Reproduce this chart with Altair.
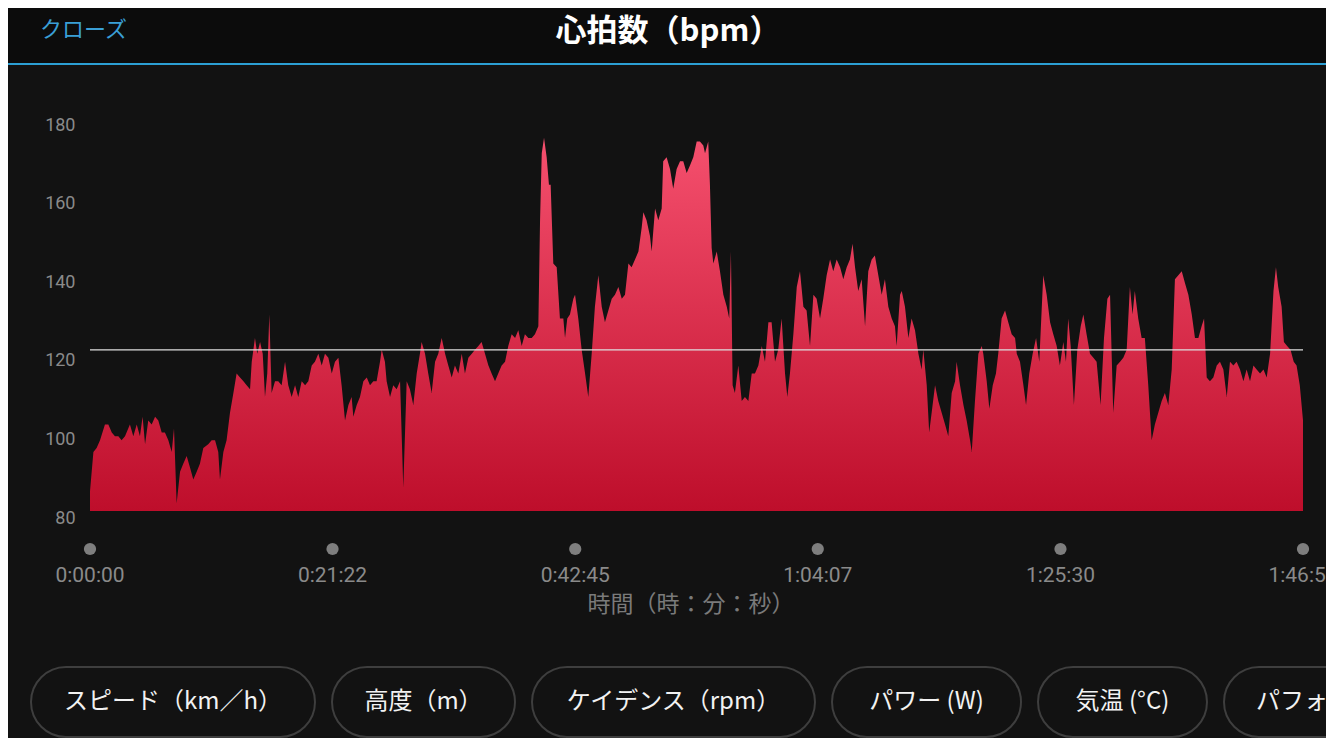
import altair as alt
import pandas as pd

# ---- data ----
elapsed_s = [0, 18, 35, 53, 79, 97, 115, 132, 150, 167, 185, 211, 229, 247, 264, 278, 291, 308, 326, 344,
             361, 379, 396, 414, 432, 444, 458, 476, 493, 511, 529, 546, 564, 581, 599, 625, 643, 661, 678, 687,
             705, 722, 740, 758, 775, 793, 811, 828, 846, 855, 872, 884, 899, 913, 925, 937, 948, 960, 978, 995,
             1013, 1031, 1048, 1066, 1084, 1101, 1119, 1137, 1154, 1172, 1189, 1207, 1225, 1242, 1260, 1278, 1295, 1313, 1330, 1348,
             1366, 1383, 1392, 1410, 1427, 1445, 1463, 1480, 1498, 1515, 1533, 1542, 1559, 1568, 1586, 1603, 1621, 1639, 1656, 1674,
             1691, 1709, 1727, 1744, 1753, 1771, 1788, 1806, 1824, 1841, 1859, 1877, 1894, 1912, 1929, 1947, 1965, 1982, 2000, 2018,
             2035, 2053, 2070, 2088, 2106, 2123, 2141, 2158, 2176, 2194, 2211, 2229, 2247, 2264, 2282, 2299, 2317, 2335, 2352, 2370,
             2379, 2388, 2400, 2414, 2426, 2435, 2449, 2467, 2484, 2502, 2511, 2523, 2537, 2555, 2564, 2581, 2599, 2617, 2634, 2652,
             2669, 2687, 2705, 2722, 2740, 2758, 2775, 2793, 2811, 2828, 2846, 2863, 2881, 2899, 2916, 2925, 2942, 2960, 2969, 2987,
             3004, 3022, 3030, 3048, 3066, 3083, 3101, 3119, 3136, 3154, 3172, 3189, 3207, 3224, 3242, 3251, 3268, 3277, 3286, 3295,
             3313, 3330, 3348, 3366, 3379, 3388, 3397, 3409, 3427, 3445, 3462, 3480, 3498, 3515, 3533, 3551, 3568, 3586, 3603, 3621,
             3638, 3656, 3674, 3686, 3700, 3718, 3736, 3753, 3771, 3788, 3806, 3824, 3841, 3859, 3876, 3894, 3912, 3929, 3947, 3965,
             3982, 4000, 4017, 4031, 4044, 4061, 4079, 4097, 4114, 4132, 4149, 4167, 4185, 4202, 4220, 4238, 4255, 4264, 4282, 4291,
             4308, 4326, 4343, 4361, 4379, 4396, 4405, 4423, 4436, 4449, 4467, 4484, 4502, 4520, 4537, 4555, 4573, 4581, 4599, 4617,
             4634, 4652, 4661, 4678, 4696, 4714, 4722, 4740, 4754, 4772, 4789, 4801, 4819, 4837, 4854, 4872, 4890, 4899, 4916, 4934,
             4948, 4965, 4983, 5001, 5018, 5039, 5057, 5075, 5092, 5110, 5127, 5145, 5159, 5171, 5184, 5201, 5219, 5237, 5251, 5268,
             5286, 5304, 5321, 5342, 5360, 5378, 5392, 5409, 5427, 5445, 5462, 5480, 5497, 5511, 5523, 5541, 5559, 5576, 5594, 5612,
             5629, 5647, 5665, 5682, 5700, 5718, 5735, 5753, 5771, 5788, 5806, 5824, 5841, 5859, 5876, 5889, 5903, 5920, 5938, 5956,
             5973, 5991, 6009, 6026, 6044, 6061, 6079, 6097, 6114, 6132, 6150, 6167, 6185, 6203, 6220, 6238, 6256, 6269, 6281, 6299,
             6311, 6328, 6346, 6363, 6378, 6395, 6412]

heart_rate_bpm = [85, 95, 96, 98, 102, 102, 100, 99, 99, 98, 99, 102, 99, 102, 99, 104, 97, 103, 102, 104,
                  103, 100, 100, 98, 95, 101, 82, 90, 92, 94, 91, 88, 90, 92, 96, 97, 98, 98, 95, 88,
                  95, 98, 105, 110, 115, 114, 113, 112, 111, 118, 124, 120, 123, 120, 109, 115, 130, 110, 113, 113,
                  112, 118, 112, 109, 112, 109, 113, 112, 113, 117, 118, 120, 117, 120, 119, 115, 118, 119, 112, 103,
                  107, 109, 104, 107, 109, 113, 114, 112, 113, 113, 118, 121, 118, 113, 109, 112, 111, 113, 86, 113,
                  111, 107, 115, 120, 123, 120, 115, 110, 118, 120, 124, 120, 117, 114, 117, 115, 120, 115, 119, 120,
                  121, 122, 123, 120, 117, 115, 113, 115, 117, 118, 122, 125, 124, 126, 122, 125, 124, 124, 125, 127,
                  154, 171, 175, 170, 163, 163, 143, 142, 129, 129, 124, 129, 130, 134, 135, 129, 121, 115, 109, 120,
                  132, 140, 132, 128, 131, 134, 135, 137, 134, 135, 143, 142, 144, 146, 152, 156, 154, 150, 146, 157,
                  154, 157, 169, 170, 167, 162, 167, 169, 169, 166, 168, 170, 174, 174, 173, 171, 174, 163, 147, 143,
                  146, 141, 135, 132, 129, 146, 112, 110, 117, 108, 109, 108, 115, 115, 117, 122, 118, 128, 128, 118,
                  121, 129, 115, 109, 115, 125, 137, 141, 132, 131, 122, 135, 134, 129, 134, 140, 144, 141, 144, 142,
                  139, 142, 144, 148, 142, 136, 139, 127, 141, 144, 145, 140, 135, 139, 132, 129, 127, 122, 135, 136,
                  132, 124, 129, 126, 120, 116, 121, 112, 100, 105, 112, 108, 105, 102, 99, 110, 113, 118, 112, 107,
                  103, 98, 95, 108, 120, 122, 120, 113, 106, 112, 115, 120, 129, 131, 128, 125, 124, 120, 118, 112,
                  107, 115, 120, 124, 118, 140, 135, 128, 125, 122, 117, 123, 118, 129, 122, 107, 121, 127, 130, 125,
                  120, 119, 118, 107, 124, 134, 135, 105, 117, 118, 119, 121, 137, 130, 136, 129, 124, 124, 112, 98,
                  102, 105, 108, 110, 107, 116, 139, 140, 141, 138, 135, 130, 124, 124, 127, 129, 114, 113, 114, 117,
                  118, 116, 109, 118, 117, 118, 116, 113, 116, 113, 117, 116, 115, 116, 114, 120, 136, 142, 137, 132,
                  123, 122, 121, 118, 117, 112, 103]

avg_bpm = [121]

tick_s = [0, 1282, 2565, 3847, 5130, 6412]
tick_labels = ["0:00:00", "0:21:22", "0:42:45", "1:04:07", "1:25:30", "1:46:52"]
y_tick_values = [80, 100, 120, 140, 160, 180]

button_labels = ["スピード（km／h）", "高度（m）", "ケイデンス（rpm）", "パワー (W)", "気温 (°C)", "パフォーマンスコンディション"]

# ---- layout (pixels, plot coordinates) ----
PLOT_W, PLOT_H = 1213, 393
pill_x0 = [-59, 242, 442, 742, 948, 1134]
pill_x1 = [225, 425, 725, 931, 1117, 1320]

hr = pd.DataFrame({"t": elapsed_s, "bpm": heart_rate_bpm})
ticks = pd.DataFrame({"t": tick_s, "label": tick_labels})
avg = pd.DataFrame({"avg": avg_bpm})
one = pd.DataFrame({"k": [0]})

JP = "Noto Sans CJK JP"
NUM = "Roboto"

x_scale = alt.Scale(domain=[0, 6412], nice=False, zero=False)
y_scale = alt.Scale(domain=[80, 180], nice=False, zero=False)

header = alt.Chart(one).mark_rect(color="#0c0c0c").encode(
    x=alt.value(-82), x2=alt.value(1244), y=alt.value(-110), y2=alt.value(-54))
header_line = alt.Chart(one).mark_rect(color="#2c9fd3").encode(
    x=alt.value(-82), x2=alt.value(1244), y=alt.value(-55), y2=alt.value(-53))
close_txt = alt.Chart(one).mark_text(text="クローズ", font=JP, fontSize=22, color="#3a9fd6",
                                     align="left", baseline="middle").encode(
    x=alt.value(-50), y=alt.value(-88))
title_txt = alt.Chart(one).mark_text(text="心拍数（bpm）", font=JP, fontSize=31, fontWeight="bold",
                                     color="#ffffff", align="center", baseline="middle").encode(
    x=alt.value(578), y=alt.value(-86))

area = alt.Chart(hr).mark_area(
    interpolate="linear",
    color=alt.Gradient(gradient="linear",
                       stops=[alt.GradientStop(color="#f5506e", offset=0),
                              alt.GradientStop(color="#be0e2b", offset=1)],
                       x1=0, x2=0, y1=0, y2=1)
).encode(
    x=alt.X("t:Q", scale=x_scale, axis=None),
    y=alt.Y("bpm:Q", scale=y_scale,
            axis=alt.Axis(values=y_tick_values, title=None, domain=False, ticks=False, grid=False,
                          labelColor="#8a8a8a", labelFont=NUM, labelFontSize=18, labelPadding=15,
                          labelOffset=7, labelBaseline="middle")),
    y2=alt.datum(80),
)

mean_rule = alt.Chart(avg).mark_rule(color="#dedede", strokeWidth=1.3).encode(
    y=alt.Y("avg:Q", scale=y_scale))

dots = alt.Chart(ticks).mark_circle(size=150, color="#7e7e7e", opacity=1).encode(
    x=alt.X("t:Q", scale=x_scale), y=alt.value(431))
tick_txt = alt.Chart(ticks).mark_text(font=NUM, fontSize=21, color="#8a8a8a", baseline="middle").encode(
    x=alt.X("t:Q", scale=x_scale), y=alt.value(458), text="label:N")
x_title = alt.Chart(one).mark_text(text="時間（時：分：秒）", font=JP, fontSize=23, color="#7a7a7a",
                                   baseline="middle").encode(
    x=alt.value(601), y=alt.value(487))

layers = [header, header_line, close_txt, title_txt, area, mean_rule, dots, tick_txt, x_title]

for i, lab in enumerate(button_labels):
    layers.append(alt.Chart(one).mark_rect(cornerRadius=35, fill="#121212", stroke="#3e3e3e",
                                           strokeWidth=2).encode(
        x=alt.value(pill_x0[i]), x2=alt.value(pill_x1[i]), y=alt.value(549), y2=alt.value(619)))
    if i < 5:
        layers.append(alt.Chart(one).mark_text(text=lab, font=JP, fontSize=24, color="#f2f2f2",
                                               align="center", baseline="middle").encode(
            x=alt.value((pill_x0[i] + pill_x1[i]) / 2), y=alt.value(584)))
    else:
        layers.append(alt.Chart(one).mark_text(text=lab, font=JP, fontSize=24, color="#f2f2f2",
                                               align="left", baseline="middle").encode(
            x=alt.value(1166), y=alt.value(584)))

chart = alt.layer(*layers).properties(
    width=PLOT_W, height=PLOT_H,
    padding={"left": 82, "top": 110, "right": 23, "bottom": 227},
    autosize=alt.AutoSizeParams(type="none"),
    background="#121212",
).configure_view(stroke=None)

chart.save("out.html", embed_options={"renderer": "svg", "actions": False})
